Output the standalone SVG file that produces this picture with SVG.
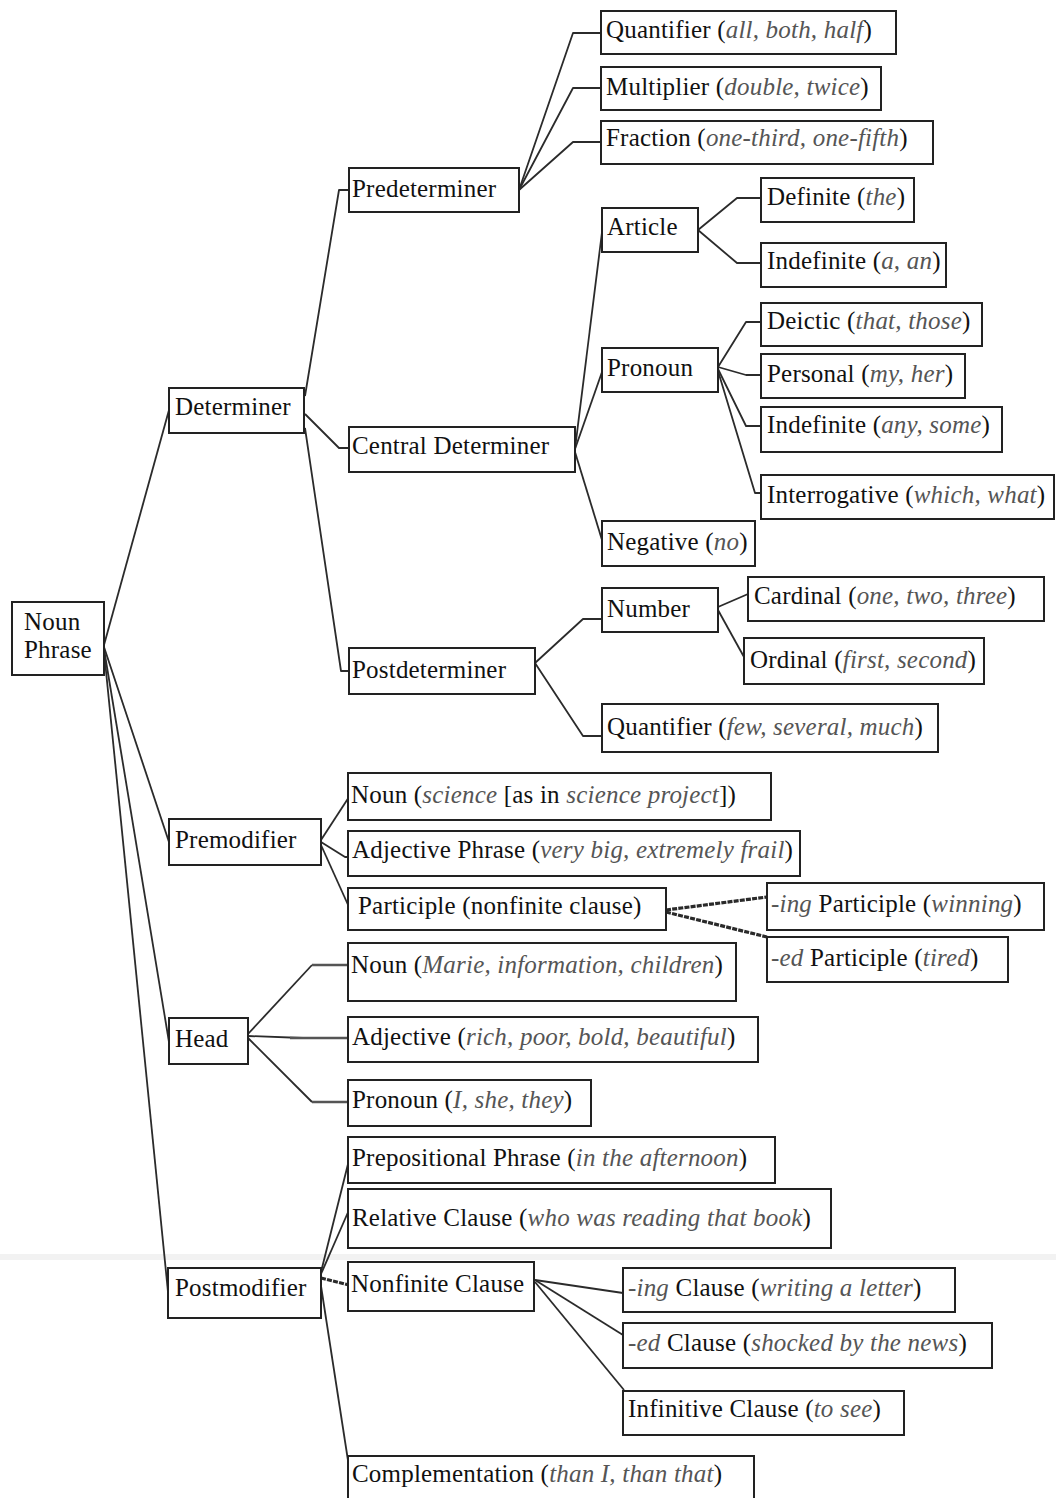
<svg xmlns="http://www.w3.org/2000/svg" width="1056" height="1498" viewBox="0 0 1056 1498">
<style>
.bg{fill:#ffffff}
.box{fill:#ffffff;stroke:#222;stroke-width:2}
.t{font-family:"Liberation Serif","Times New Roman",serif;font-size:25px;fill:#111;letter-spacing:0.2px}
.i{font-style:italic;fill:#555}
.c{fill:none;stroke:#2b2b2b;stroke-width:1.8;stroke-linejoin:round}
.ch{fill:none;stroke:#555;stroke-width:2.6}
.cd{fill:none;stroke:#2a2a2a;stroke-width:3.2;stroke-dasharray:5 1.2}
.band{stroke:#f2f2f2;stroke-width:6}
</style>
<rect class="bg" x="0" y="0" width="1056" height="1498"/>
<line class="band" x1="0" y1="1257" x2="1056" y2="1257"/>
<g id="connectors">
  <!-- Noun Phrase -->
  <polyline class="c" points="104,645 169,410"/>
  <polyline class="c" points="104,647 169,842"/>
  <polyline class="c" points="104,649 169,1042"/>
  <polyline class="c" points="104,651 168,1292"/>
  <!-- Determiner -->
  <polyline class="c" points="305,396 339,190 349,190"/>
  <polyline class="c" points="305,414 339,448 349,448"/>
  <polyline class="c" points="305,428 341,671 349,671"/>
  <!-- Predeterminer -->
  <polyline class="c" points="519,190 573,33 601,33"/>
  <polyline class="c" points="519,190 573,88 601,88"/>
  <polyline class="c" points="519,190 573,142 601,142"/>
  <!-- Central Determiner -->
  <polyline class="c" points="575,449 602,232"/>
  <polyline class="c" points="575,449 602,372"/>
  <polyline class="c" points="575,452 602,540"/>
  <!-- Article -->
  <polyline class="c" points="698,230 737,198 761,198"/>
  <polyline class="c" points="698,230 737,263 761,263"/>
  <!-- Pronoun -->
  <polyline class="c" points="718,367 746,322 761,322"/>
  <polyline class="c" points="718,367 746,375 761,375"/>
  <polyline class="c" points="718,369 746,426 761,426"/>
  <polyline class="c" points="718,371 755,493 761,493"/>
  <!-- Postdeterminer -->
  <polyline class="c" points="535,663 583,619 602,619"/>
  <polyline class="c" points="535,663 583,736 602,736"/>
  <!-- Number -->
  <polyline class="c" points="718,607 748,594"/>
  <polyline class="c" points="718,610 744,657"/>
  <!-- Premodifier -->
  <polyline class="c" points="321,840 349,797"/>
  <polyline class="c" points="321,842 345,857 349,857"/>
  <polyline class="c" points="321,845 349,907"/>
  <!-- Participle -->
  <polyline class="cd" points="666,910 767,897"/>
  <polyline class="cd" points="666,912 767,937"/>
  <!-- Head -->
  <polyline class="c" points="248,1034 312,965"/>
  <polyline class="ch" points="312,965 349,965"/>
  <polyline class="c" points="248,1036 303,1038"/>
  <polyline class="ch" points="290,1038 349,1038"/>
  <polyline class="c" points="248,1038 312,1102"/>
  <polyline class="ch" points="312,1102 349,1102"/>
  <!-- Postmodifier -->
  <polyline class="c" points="321,1272 349,1160"/>
  <polyline class="c" points="321,1274 349,1210"/>
  <polyline class="cd" points="321,1278 349,1285"/>
  <polyline class="c" points="321,1286 349,1467"/>
  <!-- Nonfinite Clause -->
  <polyline class="c" points="535,1280 623,1293"/>
  <polyline class="c" points="535,1280 623,1335"/>
  <polyline class="c" points="535,1282 624,1390"/>
</g>
<g id="n-noun-phrase"><rect class="box" x="12" y="602" width="92" height="73"/><text class="t" x="24" y="630">Noun</text><text class="t" x="24" y="658">Phrase</text></g>
<g id="n-determiner"><rect class="box" x="169" y="388" width="135" height="45"/><text class="t" x="175" y="415">Determiner</text></g>
<g id="n-premodifier"><rect class="box" x="169" y="819" width="152" height="46"/><text class="t" x="175" y="848">Premodifier</text></g>
<g id="n-head"><rect class="box" x="169" y="1018" width="79" height="46"/><text class="t" x="175" y="1047">Head</text></g>
<g id="n-postmodifier"><rect class="box" x="168" y="1268" width="153" height="50"/><text class="t" x="175" y="1296">Postmodifier</text></g>
<g id="n-predeterminer"><rect class="box" x="349" y="168" width="170" height="44"/><text class="t" x="352" y="197">Predeterminer</text></g>
<g id="n-central-determiner"><rect class="box" x="349" y="427" width="226" height="45"/><text class="t" x="352" y="454">Central Determiner</text></g>
<g id="n-postdeterminer"><rect class="box" x="349" y="648" width="186" height="46"/><text class="t" x="352" y="678">Postdeterminer</text></g>
<g id="n-quantifier-pre"><rect class="box" x="601" y="11" width="295" height="43"/><text class="t" x="606" y="38">Quantifier (<tspan class="i">all, both, half</tspan>)</text></g>
<g id="n-multiplier"><rect class="box" x="601" y="67" width="280" height="43"/><text class="t" x="606" y="95">Multiplier (<tspan class="i">double, twice</tspan>)</text></g>
<g id="n-fraction"><rect class="box" x="601" y="121" width="332" height="43"/><text class="t" x="606" y="146">Fraction (<tspan class="i">one-third, one-fifth</tspan>)</text></g>
<g id="n-article"><rect class="box" x="602" y="208" width="96" height="44"/><text class="t" x="607" y="235">Article</text></g>
<g id="n-definite"><rect class="box" x="761" y="178" width="153" height="44"/><text class="t" x="767" y="205">Definite (<tspan class="i">the</tspan>)</text></g>
<g id="n-indefinite-article"><rect class="box" x="761" y="243" width="185" height="44"/><text class="t" x="767" y="269">Indefinite (<tspan class="i">a, an</tspan>)</text></g>
<g id="n-pronoun-det"><rect class="box" x="602" y="348" width="116" height="44"/><text class="t" x="607" y="376">Pronoun</text></g>
<g id="n-deictic"><rect class="box" x="761" y="303" width="221" height="43"/><text class="t" x="767" y="329">Deictic (<tspan class="i">that, those</tspan>)</text></g>
<g id="n-personal"><rect class="box" x="761" y="354" width="204" height="44"/><text class="t" x="767" y="382">Personal (<tspan class="i">my, her</tspan>)</text></g>
<g id="n-indefinite-pronoun"><rect class="box" x="761" y="407" width="241" height="45"/><text class="t" x="767" y="433">Indefinite (<tspan class="i">any, some</tspan>)</text></g>
<g id="n-interrogative"><rect class="box" x="761" y="475" width="293" height="44"/><text class="t" x="767" y="503">Interrogative (<tspan class="i">which, what</tspan>)</text></g>
<g id="n-negative"><rect class="box" x="602" y="521" width="153" height="45"/><text class="t" x="607" y="550">Negative (<tspan class="i">no</tspan>)</text></g>
<g id="n-number"><rect class="box" x="602" y="588" width="116" height="44"/><text class="t" x="607" y="617">Number</text></g>
<g id="n-cardinal"><rect class="box" x="748" y="577" width="296" height="44"/><text class="t" x="754" y="604">Cardinal (<tspan class="i">one, two, three</tspan>)</text></g>
<g id="n-ordinal"><rect class="box" x="744" y="638" width="240" height="46"/><text class="t" x="750" y="668">Ordinal (<tspan class="i">first, second</tspan>)</text></g>
<g id="n-quantifier-post"><rect class="box" x="602" y="704" width="336" height="48"/><text class="t" x="607" y="735">Quantifier (<tspan class="i">few, several, much</tspan>)</text></g>
<g id="n-noun-pre"><rect class="box" x="348" y="773" width="423" height="47"/><text class="t" x="351" y="803">Noun (<tspan class="i">science</tspan> [as in <tspan class="i">science project</tspan>])</text></g>
<g id="n-adjective-phrase"><rect class="box" x="348" y="831" width="452" height="45"/><text class="t" x="352" y="858">Adjective Phrase (<tspan class="i">very big, extremely frail</tspan>)</text></g>
<g id="n-participle"><rect class="box" x="348" y="888" width="318" height="42"/><text class="t" x="358" y="914">Participle (nonfinite clause)</text></g>
<g id="n-ing-participle"><rect class="box" x="767" y="883" width="277" height="47"/><text class="t" x="771" y="912"><tspan class="i">-ing</tspan> Participle (<tspan class="i">winning</tspan>)</text></g>
<g id="n-ed-participle"><rect class="box" x="767" y="937" width="241" height="45"/><text class="t" x="771" y="966"><tspan class="i">-ed</tspan> Participle (<tspan class="i">tired</tspan>)</text></g>
<g id="n-noun-head"><rect class="box" x="348" y="943" width="388" height="58"/><text class="t" x="351" y="973">Noun (<tspan class="i">Marie, information, children</tspan>)</text></g>
<g id="n-adjective-head"><rect class="box" x="348" y="1017" width="410" height="45"/><text class="t" x="352" y="1045">Adjective (<tspan class="i">rich, poor, bold, beautiful</tspan>)</text></g>
<g id="n-pronoun-head"><rect class="box" x="348" y="1080" width="243" height="46"/><text class="t" x="352" y="1108">Pronoun (<tspan class="i">I, she, they</tspan>)</text></g>
<g id="n-prepositional-phrase"><rect class="box" x="348" y="1137" width="427" height="46"/><text class="t" x="352" y="1166">Prepositional Phrase (<tspan class="i">in the afternoon</tspan>)</text></g>
<g id="n-relative-clause"><rect class="box" x="348" y="1189" width="483" height="59"/><text class="t" x="352" y="1226">Relative Clause (<tspan class="i">who was reading that book</tspan>)</text></g>
<g id="n-nonfinite-clause"><rect class="box" x="348" y="1262" width="186" height="49"/><text class="t" x="351" y="1292">Nonfinite Clause</text></g>
<g id="n-ing-clause"><rect class="box" x="623" y="1268" width="332" height="44"/><text class="t" x="628" y="1296"><tspan class="i">-ing</tspan> Clause (<tspan class="i">writing a letter</tspan>)</text></g>
<g id="n-ed-clause"><rect class="box" x="623" y="1323" width="369" height="45"/><text class="t" x="628" y="1351"><tspan class="i">-ed</tspan> Clause (<tspan class="i">shocked by the news</tspan>)</text></g>
<g id="n-infinitive-clause"><rect class="box" x="623" y="1391" width="281" height="44"/><text class="t" x="628" y="1417">Infinitive Clause (<tspan class="i">to see</tspan>)</text></g>
<g id="n-complementation"><rect class="box" x="348" y="1456" width="406" height="52"/><text class="t" x="352" y="1482">Complementation (<tspan class="i">than I, than that</tspan>)</text></g>
</svg>
